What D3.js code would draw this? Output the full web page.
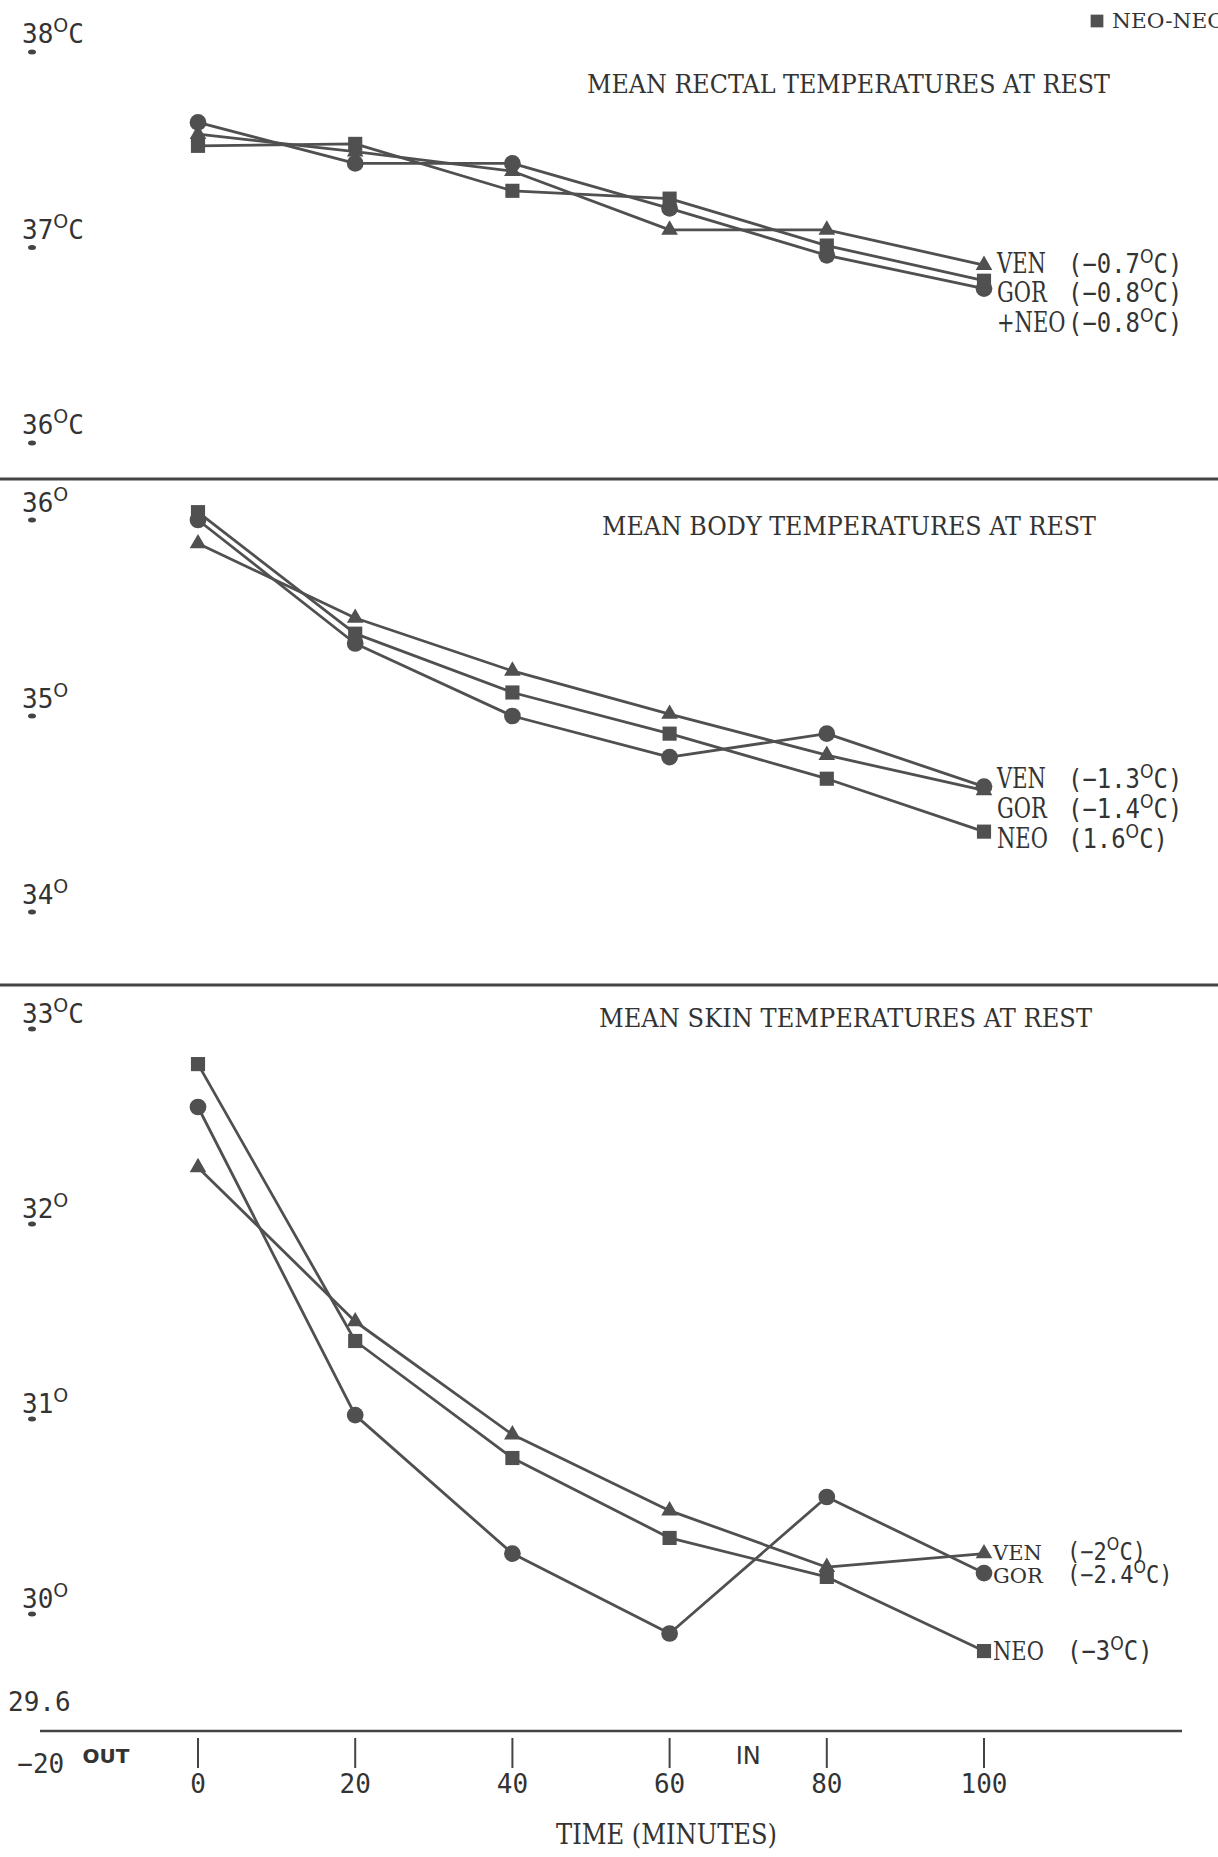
<!DOCTYPE html>
<meta charset="utf-8">
<style>
body { margin: 0; background: #fff; }
svg { display: block; }
.num { font-family: "DejaVu Sans Mono", monospace; fill: #333; }
.serif { font-family: "DejaVu Serif", serif; fill: #333; }
.sup { font-family: "DejaVu Sans", sans-serif; }
.hand { font-family: "DejaVu Sans", sans-serif; fill: #333; }
</style>
<body>
<script src="https://cdn.jsdelivr.net/npm/d3@7"></script>
<svg width="1218" height="1857"></svg>
<script>

// time points (minutes)
var minutes = [0, 20, 40, 60, 80, 100];
var timeTicks = [0, 20, 40, 60, 80, 100];

// mean rectal temperatures
var rectalVEN = [37.58, 37.49, 37.39, 37.09, 37.09, 36.91];
var rectalGOR = [37.64, 37.43, 37.43, 37.20, 36.96, 36.79];
var rectalNEO = [37.52, 37.53, 37.29, 37.25, 37.01, 36.83];
var rectalTicks = [38, 37, 36];
var rectalUnits = ["C", "C", "C"];
var rectalNames = ["VEN", "GOR", "+NEO"];
var rectalChanges = ["-0.7", "-0.8", "-0.8"];

// mean body temperatures
var bodyVEN = [35.88, 35.50, 35.23, 35.01, 34.80, 34.62];
var bodyGOR = [36.00, 35.37, 35.00, 34.79, 34.91, 34.64];
var bodyNEO = [36.04, 35.42, 35.12, 34.91, 34.68, 34.41];
var bodyTicks = [36, 35, 34];
var bodyUnits = ["", "", ""];
var bodyNames = ["VEN", "GOR", "NEO"];
var bodyChanges = ["-1.3", "-1.4", "1.6"];

// mean skin temperatures
var skinVEN = [32.29, 31.50, 30.92, 30.53, 30.24, 30.31];
var skinGOR = [32.60, 31.02, 30.31, 29.90, 30.60, 30.21];
var skinNEO = [32.82, 31.40, 30.80, 30.39, 30.19, 29.81];
var skinTicks = [33, 32, 31, 30];
var skinUnits = ["C", "", "", ""];
var skinNames = ["VEN", "GOR", "NEO"];
var skinChanges = ["-2", "-2.4", "-3"];

var svg = d3.select("svg");
var ink = "#505050";

var x = d3.scaleLinear().domain([0, 100]).range([198, 984]);

var symbols = {
  VEN: d3.symbol().type(d3.symbolTriangle).size(120),
  GOR: d3.symbol().type(d3.symbolCircle).size(220),
  NEO: d3.symbol().type(d3.symbolSquare).size(200)
};

var panels = [
  { title: "MEAN  RECTAL  TEMPERATURES  AT  REST", titleX: 587, titleY: 93, titleW: 523,
    y: d3.scaleLinear().domain([36, 38]).range([443, 52]),
    ticks: rectalTicks, units: rectalUnits, tickOff: 9,
    series: [["VEN", rectalVEN], ["GOR", rectalGOR], ["NEO", rectalNEO]],
    names: rectalNames, changes: rectalChanges,
    labelX: 997, valueX: 1068, labelY: [273, 302, 332],
    nameSize: [27, 27, 27], valueSize: [26, 26, 26] },
  { title: "MEAN  BODY  TEMPERATURES  AT  REST", titleX: 602, titleY: 535, titleW: 494,
    y: d3.scaleLinear().domain([34, 36]).range([912, 520]),
    ticks: bodyTicks, units: bodyUnits, tickOff: 8,
    series: [["VEN", bodyVEN], ["GOR", bodyGOR], ["NEO", bodyNEO]],
    names: bodyNames, changes: bodyChanges,
    labelX: 997, valueX: 1068, labelY: [788, 818, 848],
    nameSize: [27, 27, 27], valueSize: [26, 26, 26] },
  { title: "MEAN  SKIN  TEMPERATURES  AT  REST", titleX: 599, titleY: 1027, titleW: 493,
    y: d3.scaleLinear().domain([30, 33]).range([1614, 1029]),
    ticks: skinTicks, units: skinUnits, tickOff: 6,
    series: [["VEN", skinVEN], ["GOR", skinGOR], ["NEO", skinNEO]],
    names: skinNames, changes: skinChanges,
    labelX: 993, valueX: 1067, labelY: [1560, 1583, 1660],
    nameSize: [21, 21, 26], valueSize: [24, 24, 26] }
];

// page separators
[479, 985].forEach(function(yy) {
  svg.append("line").attr("x1", 0).attr("x2", 1218).attr("y1", yy).attr("y2", yy)
    .attr("stroke", "#444").attr("stroke-width", 3);
});

panels.forEach(function(p) {
  var g = svg.append("g");

  g.append("text").attr("class", "serif")
    .attr("x", p.titleX).attr("y", p.titleY)
    .attr("font-size", 26)
    .attr("textLength", p.titleW).attr("lengthAdjust", "spacingAndGlyphs")
    .text(p.title);

  // y tick labels with little dots underneath
  p.ticks.forEach(function(t, i) {
    var ty = p.y(t);
    g.append("ellipse").attr("cx", 32).attr("cy", ty).attr("rx", 4).attr("ry", 2.5).attr("fill", "#444");
    var txt = g.append("text").attr("class", "num").attr("x", 22).attr("y", ty - p.tickOff).attr("font-size", 26);
    txt.append("tspan").text(t);
    txt.append("tspan").attr("class", "sup").attr("font-size", 19).attr("dy", -11).text("O");
    if (p.units[i]) txt.append("tspan").attr("dy", 11).text(p.units[i]);
  });

  var line = d3.line().x(function(d, i) { return x(minutes[i]); }).y(function(d) { return p.y(d); });

  p.series.forEach(function(s) {
    g.append("path").datum(s[1]).attr("d", line)
      .attr("fill", "none").attr("stroke", ink).attr("stroke-width", 2.8)
      .attr("stroke-linejoin", "round");
  });
  p.series.forEach(function(s) {
    g.selectAll(null).data(s[1]).enter().append("path")
      .attr("d", symbols[s[0]])
      .attr("transform", function(d, i) { return "translate(" + x(minutes[i]) + "," + p.y(d) + ")"; })
      .attr("fill", ink);
  });

  // end labels
  p.names.forEach(function(n, i) {
    var fs = p.nameSize[i], vs = p.valueSize[i];
    g.append("text").attr("class", "serif")
      .attr("transform", "translate(" + p.labelX + "," + p.labelY[i] + ") scale(" + (21 / fs) + ",1)")
      .attr("font-size", fs).text(n);
    var v = g.append("text").attr("class", "num")
      .attr("transform", "translate(" + p.valueX + "," + p.labelY[i] + ") scale(0.92,1)")
      .attr("font-size", vs);
    v.append("tspan").text("(" + p.changes[i].replace("-", "\u2212"));
    v.append("tspan").attr("class", "sup").attr("font-size", vs * 0.72).attr("dy", -vs * 0.4).text("O");
    v.append("tspan").attr("dy", vs * 0.4).text("C)");
  });
});

// top-right legend fragment
svg.append("path").attr("d", symbols.NEO).attr("transform", "translate(1097,21) scale(0.9)").attr("fill", ink);
svg.append("text").attr("class", "serif").attr("x", 1112).attr("y", 28).attr("font-size", 21)
  .attr("textLength", 113).attr("lengthAdjust", "spacingAndGlyphs").text("NEO-NEO");

// time axis
var axisY = 1731;
svg.append("line").attr("x1", 40).attr("x2", 1182).attr("y1", axisY).attr("y2", axisY)
  .attr("stroke", "#444").attr("stroke-width", 2.5);
svg.selectAll(".tick").data(timeTicks).enter().append("line")
  .attr("x1", function(d) { return x(d); }).attr("x2", function(d) { return x(d); })
  .attr("y1", axisY + 7).attr("y2", axisY + 37)
  .attr("stroke", "#444").attr("stroke-width", 2);
svg.selectAll(".tlab").data(timeTicks).enter().append("text")
  .attr("class", "num").attr("text-anchor", "middle")
  .attr("x", function(d) { return x(d); }).attr("y", 1793)
  .attr("font-size", 26).text(function(d) { return d; });
svg.append("text").attr("class", "num").attr("text-anchor", "middle")
  .attr("x", x(-20)).attr("y", 1773).attr("font-size", 26).text("\u221220");
svg.append("text").attr("class", "num").attr("x", 8).attr("y", 1711).attr("font-size", 26).text("29.6");

svg.append("text").attr("class", "hand").attr("text-anchor", "middle")
  .attr("x", x(-11.7)).attr("y", 1763).attr("font-size", 20).attr("font-weight", "bold").text("OUT");
svg.append("text").attr("class", "hand").attr("text-anchor", "middle")
  .attr("x", x(70)).attr("y", 1764).attr("font-size", 24).text("IN");

svg.append("text").attr("class", "serif").attr("x", 556).attr("y", 1844).attr("font-size", 27)
  .attr("textLength", 221).attr("lengthAdjust", "spacingAndGlyphs").text("TIME  (MINUTES)");

</script>
</body>
